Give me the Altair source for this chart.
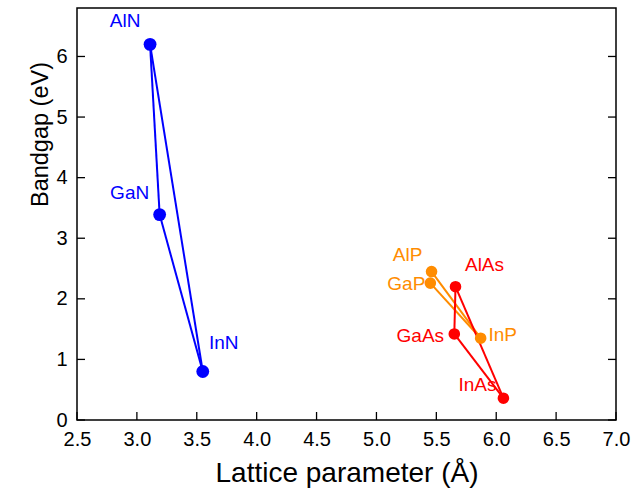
import altair as alt
import pandas as pd

# III-V semiconductors: lattice parameter (Å) vs bandgap (eV)
compounds = ["AlN", "GaN", "InN", "AlP", "GaP", "InP", "AlAs", "GaAs", "InAs"]
lattice = [3.11, 3.19, 3.55, 5.46, 5.45, 5.87, 5.66, 5.65, 6.06]
bandgap = [6.20, 3.39, 0.80, 2.45, 2.26, 1.35, 2.20, 1.42, 0.36]
family = ["Nitride"] * 3 + ["Phosphide"] * 3 + ["Arsenide"] * 3

# alloy tie-lines between binary compounds
edges = [
    ("AlN", "GaN"), ("GaN", "InN"), ("InN", "AlN"),
    ("AlP", "InP"), ("GaP", "InP"),
    ("AlAs", "GaAs"), ("AlAs", "InAs"), ("GaAs", "InAs"),
]

x_ticks = [2.5, 3.0, 3.5, 4.0, 4.5, 5.0, 5.5, 6.0, 6.5, 7.0]
y_ticks = [0, 1, 2, 3, 4, 5, 6]

families = ["Nitride", "Phosphide", "Arsenide"]
family_colors = ["#0000FF", "#FF8C00", "#FF0000"]

# label placement (pixel offsets from each point)
label_offsets = {
    "AlN": (-25, -17), "GaN": (-30, -16), "InN": (21, -23),
    "AlP": (-24, -11), "GaP": (-24, 7), "InP": (22, 3),
    "AlAs": (29, -16), "GaAs": (-34, 8), "InAs": (-26, -7),
}

W, H = 539, 412
TICK = 8
FONT = "Liberation Sans"

pts = pd.DataFrame({"name": compounds, "a": lattice, "eg": bandgap, "family": family})
lookup = pts.set_index("name")
seg = pd.DataFrame([
    {"a": lookup.loc[s, "a"], "eg": lookup.loc[s, "eg"],
     "a2": lookup.loc[e, "a"], "eg2": lookup.loc[e, "eg"],
     "family": lookup.loc[s, "family"]}
    for s, e in edges
])

xscale = alt.Scale(domain=[2.5, 7.0], nice=False, zero=False)
yscale = alt.Scale(domain=[0, 6.8], nice=False, zero=False)
cscale = alt.Scale(domain=families, range=family_colors)

x_axis = alt.Axis(values=x_ticks, format=".1f", ticks=False, domain=False, grid=False,
                  labelFlush=False, labelOverlap=False,
                  labelFontSize=20, labelPadding=9, labelColor="black", labelFont=FONT,
                  title="Lattice parameter (Å)", titleFontSize=28, titleFontWeight="normal",
                  titleFont=FONT, titleColor="black", titlePadding=10)
y_axis = alt.Axis(values=y_ticks, format="d", ticks=False, domain=False, grid=False,
                  labelFlush=False, labelOverlap=False,
                  labelFontSize=20, labelPadding=10, labelColor="black", labelFont=FONT,
                  title="Bandgap (eV)", titleFontSize=23.5, titleFontWeight="normal",
                  titleFont=FONT, titleColor="black", titleAngle=270,
                  titleAlign="center", titleBaseline="alphabetic",
                  titleX=-30, titleY=126)

X = lambda f: alt.X(f, type="quantitative", scale=xscale, axis=x_axis)
Y = lambda f: alt.Y(f, type="quantitative", scale=yscale, axis=y_axis)
C = alt.Color("family:N", scale=cscale, legend=None)

lines = alt.Chart(seg).mark_rule(strokeWidth=2).encode(
    x=X("a"), y=Y("eg"), x2="a2:Q", y2="eg2:Q", color=C,
)

dots = alt.Chart(pts).mark_circle(opacity=1).encode(
    x=X("a"), y=Y("eg"), color=C,
    size=alt.condition(alt.datum.family == "Nitride", alt.value(165), alt.value(135)),
)

labels = []
for name in compounds:
    dx, dy = label_offsets[name]
    labels.append(
        alt.Chart(pts).transform_filter(alt.datum.name == name).mark_text(
            align="center", baseline="alphabetic", dx=dx, dy=dy,
            fontSize=19, font=FONT,
        ).encode(x=X("a"), y=Y("eg"), text="name:N", color=C)
    )

# inward tick marks on the bottom, left and right frame edges
xt = pd.DataFrame({"t": x_ticks})
yt = pd.DataFrame({"t": y_ticks})
bottom_ticks = alt.Chart(xt).mark_rule(color="black", strokeWidth=1.3).encode(
    x=X("t"), y=alt.value(H - TICK), y2=alt.value(H),
)
left_ticks = alt.Chart(yt).mark_rule(color="black", strokeWidth=1.3).encode(
    y=Y("t"), x=alt.value(0), x2=alt.value(TICK),
)
right_ticks = alt.Chart(yt).mark_rule(color="black", strokeWidth=1.3).encode(
    y=Y("t"), x=alt.value(W - TICK), x2=alt.value(W),
)

chart = alt.layer(
    lines, bottom_ticks, left_ticks, right_ticks, dots, *labels
).properties(
    width=W, height=H,
    autosize=alt.AutoSizeParams(type="none"),
    padding={"left": 77, "top": 8, "right": 644 - 77 - W, "bottom": 491 - 8 - H},
    background="white",
).configure_view(
    stroke="black", strokeWidth=1.5,
)

chart.save("out.html", embed_options={"renderer": "svg", "actions": False})
